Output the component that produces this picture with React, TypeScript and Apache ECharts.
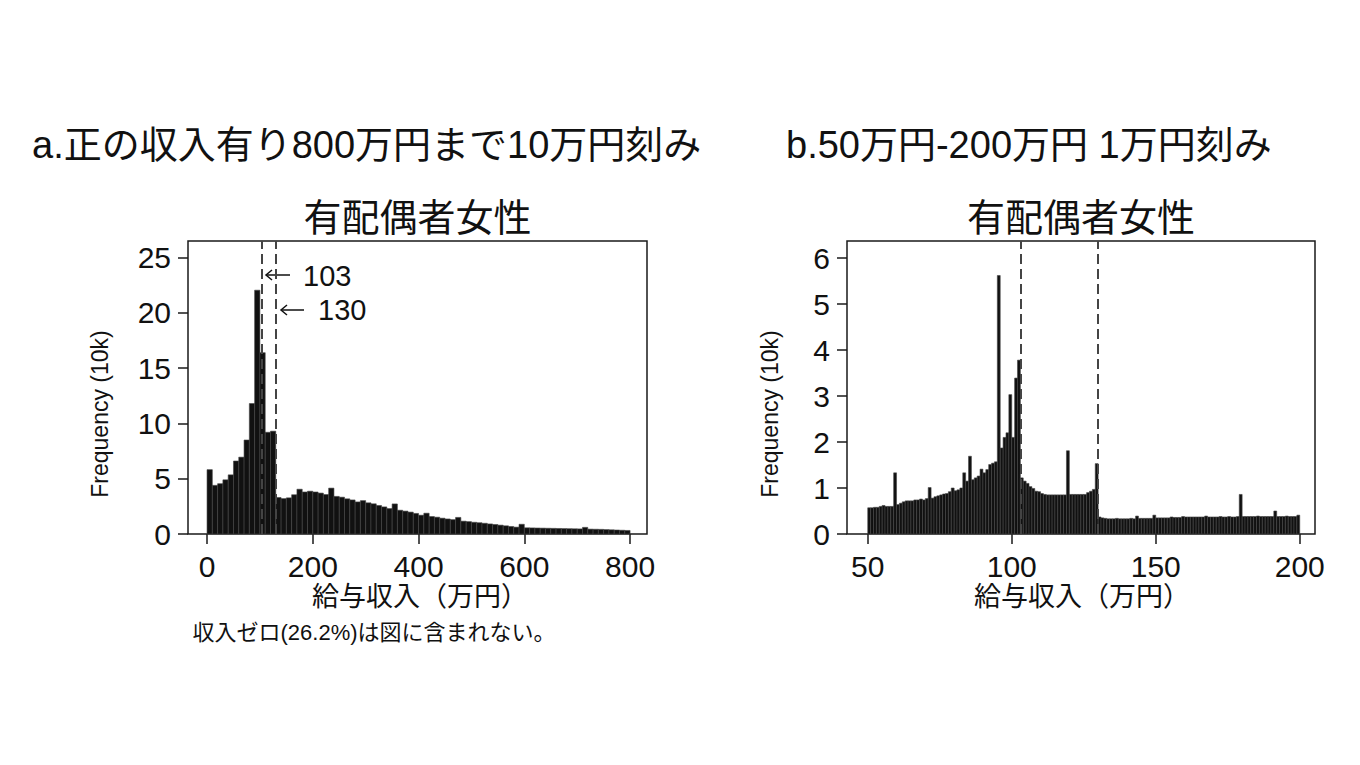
import React, { useEffect, useRef } from "react";
import * as echarts from "echarts";

const FONT = "'Liberation Sans', 'Noto Sans CJK JP', sans-serif";

// a. 10万円 bins from 0 to 800 (frequency in 10k)
const leftBinStart = 0;
const leftBinWidth = 10;
const leftCounts = [
  5.82, 4.4, 4.55, 4.9, 5.35, 6.6, 6.95, 8.5, 11.8, 22.05,
  16.4, 9.2, 9.3, 3.3, 3.2, 3.27, 3.55, 4.05, 3.8, 3.87,
  3.8, 3.7, 3.57, 4.15, 3.4, 3.33, 3.18, 3.08, 2.9, 3.02,
  2.82, 2.73, 2.58, 2.45, 2.3, 2.72, 2.15, 2.07, 1.98, 1.86,
  1.7, 1.88, 1.58, 1.52, 1.43, 1.36, 1.3, 1.5, 1.16, 1.12,
  1.06, 1.02, 0.97, 0.91, 0.86, 0.8, 0.74, 0.68, 0.62, 0.88,
  0.56, 0.55, 0.54, 0.53, 0.52, 0.51, 0.5, 0.49, 0.48, 0.47,
  0.46, 0.6, 0.44, 0.43, 0.42, 0.4, 0.38, 0.36, 0.34, 0.32,
];

// b. 1万円 bins from 50 to 200
const rightBinStart = 50;
const rightBinWidth = 1;
const rightCounts = [
  0.57, 0.57, 0.58, 0.58, 0.6, 0.62, 0.6, 0.6, 0.6, 1.33,
  0.64, 0.67, 0.7, 0.72, 0.72, 0.72, 0.74, 0.74, 0.76, 0.74,
  0.77, 1.01, 0.78, 0.81, 0.83, 0.85, 0.87, 0.88, 0.92, 1.0,
  0.94, 0.96, 1.0, 1.33, 1.15, 1.69, 1.18, 1.22, 1.26, 1.41,
  1.33, 1.4, 1.51, 1.54, 1.57, 5.62, 1.87, 2.1, 2.2, 3.03,
  2.1, 3.39, 3.78, 1.22, 1.15, 1.1, 1.03, 0.99, 0.93, 0.92,
  0.88, 0.86, 0.85, 0.85, 0.85, 0.85, 0.85, 0.85, 0.85, 1.81,
  0.86, 0.86, 0.86, 0.86, 0.86, 0.86, 0.9, 0.93, 0.97, 1.53,
  0.37, 0.35, 0.34, 0.33, 0.33, 0.33, 0.34, 0.33, 0.33, 0.33,
  0.33, 0.34, 0.33, 0.39, 0.34, 0.34, 0.34, 0.34, 0.34, 0.41,
  0.35, 0.35, 0.35, 0.35, 0.35, 0.37, 0.36, 0.36, 0.36, 0.38,
  0.37, 0.37, 0.37, 0.37, 0.37, 0.37, 0.37, 0.39, 0.37, 0.37,
  0.37, 0.37, 0.38, 0.37, 0.37, 0.38, 0.37, 0.37, 0.38, 0.86,
  0.38, 0.38, 0.38, 0.38, 0.38, 0.39, 0.38, 0.38, 0.38, 0.38,
  0.38, 0.5, 0.38, 0.38, 0.38, 0.39, 0.38, 0.38, 0.38, 0.41,
];

const leftXTicks = [0, 200, 400, 600, 800];
const leftYTicks = [0, 5, 10, 15, 20, 25];
const rightXTicks = [50, 100, 150, 200];
const rightYTicks = [0, 1, 2, 3, 4, 5, 6];
const markers = [103, 130];

const toBins = (start: number, width: number, counts: number[]) =>
  counts.map((v, i) => [start + i * width, start + (i + 1) * width, v]);

const renderBar = (params: any, api: any) => {
  const p0 = api.coord([api.value(0), 0]);
  const p1 = api.coord([api.value(1), api.value(2)]);
  return {
    type: "rect",
    shape: { x: p0[0], y: p1[1], width: p1[0] - p0[0], height: p0[1] - p1[1] },
    style: { fill: "#111", stroke: "#444", lineWidth: 0.6 },
  };
};

const axisOf = (grid: number, min: number, max: number, ticks: number[]) => ({
  type: "value",
  gridIndex: grid,
  min,
  max,
  axisLine: { show: false, onZero: false },
  splitLine: { show: false },
  axisTick: { customValues: ticks, length: 10, lineStyle: { color: "#1a1a1a", width: 1.5 } },
  axisLabel: { customValues: ticks, fontSize: 30, fontFamily: FONT, color: "#111", margin: 17 },
});

const markLine = {
  silent: true,
  symbol: ["none", "none"],
  label: { show: false },
  lineStyle: { color: "#444", width: 2, type: [10, 5] },
  data: markers.map((v) => ({ xAxis: v })),
};

const text = (t: string, x: number, y: number, size: number, align = "center", rotation = 0) => ({
  type: "text",
  x,
  y,
  rotation,
  style: {
    text: t,
    fontSize: size,
    fontFamily: FONT,
    fill: "#111",
    align,
    verticalAlign: "middle",
  },
});

const arrow = (x0: number, x1: number, y: number) => [
  { type: "line", shape: { x1: x0, y1: y, x2: x1, y2: y }, style: { stroke: "#111", lineWidth: 1.5 } },
  {
    type: "polyline",
    shape: { points: [[x0 + 6, y - 5], [x0, y], [x0 + 6, y + 5]] },
    style: { stroke: "#111", lineWidth: 1.5, fill: "none" },
  },
];

const App: React.FC = () => {
  const chartRef = useRef<HTMLDivElement | null>(null);

  useEffect(() => {
    const chart = echarts.init(chartRef.current, null, { renderer: "svg" });
    chart.setOption({
      animation: false,
      backgroundColor: "#fff",
      grid: [
        { left: 188, top: 241, width: 459, height: 293, show: true, borderColor: "#1a1a1a", borderWidth: 1.5 },
        { left: 847, top: 241, width: 468, height: 293, show: true, borderColor: "#1a1a1a", borderWidth: 1.5 },
      ],
      xAxis: [axisOf(0, -36, 832, leftXTicks), axisOf(1, 42.8, 205.3, rightXTicks)],
      yAxis: [axisOf(0, 0, 26.5, leftYTicks), axisOf(1, 0, 6.37, rightYTicks)],
      series: [
        {
          type: "custom",
          xAxisIndex: 0,
          yAxisIndex: 0,
          data: toBins(leftBinStart, leftBinWidth, leftCounts),
          encode: { x: [0, 1], y: 2 },
          renderItem: renderBar,
          markLine,
        },
        {
          type: "custom",
          xAxisIndex: 1,
          yAxisIndex: 1,
          data: toBins(rightBinStart, rightBinWidth, rightCounts),
          encode: { x: [0, 1], y: 2 },
          renderItem: renderBar,
          markLine,
        },
      ],
      graphic: [
        text("a.正の収入有り800万円まで10万円刻み", 32, 145, 38, "left"),
        text("b.50万円-200万円 1万円刻み", 786, 145, 38, "left"),
        text("有配偶者女性", 417.5, 218, 38),
        text("有配偶者女性", 1081, 218, 38),
        text("Frequency (10k)", 100, 414, 23, "center", Math.PI / 2),
        text("Frequency (10k)", 770, 414, 23, "center", Math.PI / 2),
        text("給与収入（万円）", 420, 597, 27),
        text("給与収入（万円）", 1082, 597, 27),
        text("収入ゼロ(26.2%)は図に含まれない。", 374, 632, 22),
        text("103", 303, 276, 29, "left"),
        text("130", 318, 310, 29, "left"),
        ...arrow(266, 290, 275),
        ...arrow(281, 304, 310),
      ],
    });
    return () => {
      chart.dispose();
    };
  }, []);

  return (
    <div
      ref={chartRef}
      style={{ position: "fixed", left: 0, top: 0, width: 1360, height: 765, background: "#fff" }}
    />
  );
};

export default App;
